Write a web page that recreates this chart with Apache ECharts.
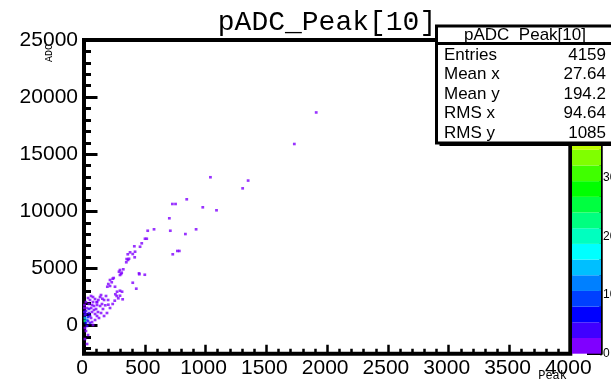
<!DOCTYPE html>
<html>
<head>
<meta charset="utf-8">
<script src="https://cdn.jsdelivr.net/npm/echarts@6/dist/echarts.min.js"></script>
<style>
html,body{margin:0;padding:0;background:#fff}
#chart{width:611px;height:379px}
</style>
</head>
<body>
<div id="chart"></div>
<script>
// bins of the 2D histogram: [Peak, ADC, entries]
var points = [
	[1910, 18660, 1], [1730, 15900, 1], [1040, 12990, 1], [1350, 12700, 1], [1305, 12020, 1],
	[845, 11060, 1], [727, 10650, 1], [753, 10650, 1], [977, 10360, 1], [1090, 10100, 1],
	[702, 9400, 1], [576, 8435, 1], [524, 8310, 1], [710, 8310, 1], [922, 8435, 1],
	[834, 8020, 1], [502, 7610, 1], [516, 7610, 1], [475, 7210, 1], [461, 6910, 1],
	[420, 6475, 1], [401, 6270, 1], [370, 5860, 1], [362, 5750, 1], [348, 5550, 1],
	[768, 6540, 1], [784, 6540, 1], [730, 6250, 1], [417, 5985, 1], [323, 4935, 1],
	[296, 4875, 1], [288, 4725, 1], [305, 4525, 1], [296, 4435, 1], [453, 4585, 1],
	[455, 4500, 1], [500, 4460, 1], [401, 3760, 1], [430, 3240, 1], [228, 3800, 1],
	[214, 4000, 1], [236, 4110, 1], [244, 4175, 1], [200, 3650, 1], [214, 3475, 1],
	[192, 3410, 1], [255, 3410, 1], [272, 2975, 1], [296, 3060, 1], [258, 2750, 1],
	[269, 2600, 1], [296, 2625, 1], [318, 2310, 1], [253, 2190, 1], [236, 1900, 1],
	[200, 1840, 1], [175, 1785, 1], [140, 2685, 1], [151, 2360, 1], [118, 2250, 1],
	[105, 2050, 1], [414, 6950, 1], [379, 6420, 1], [360, 6250, 1], [351, 5835, 1],
	[310, 4640, 1], [313, 2975, 1], [282, 2400, 1],
	[8, 410, 22], [8, 674, 16], [25, 500, 12], [16, 236, 8], [33, 761, 6],
	[8, 936, 5], [49, 849, 4], [41, 1111, 3], [16, 1286, 4], [66, 1199, 2],
	[25, 1549, 2], [58, 1549, 1], [82, 1724, 1], [41, 1899, 1], [74, 2074, 1],
	[99, 1461, 1], [115, 1199, 1], [91, 1024, 1], [132, 1724, 1], [148, 1899, 1],
	[107, 1811, 1], [49, 2249, 1], [165, 2249, 1], [156, 1461, 1], [25, -26, 4],
	[8, -201, 2], [16, -464, 1], [33, -814, 1], [8, -1164, 1], [25, -1601, 1],
	[66, 324, 2], [91, 499, 1], [123, 674, 1], [165, 849, 1], [189, 1111, 1],
	[214, 1549, 1], [198, 2249, 1], [181, 2599, 1], [132, 2511, 1], [74, 2511, 1],
	[4, 1811, 1], [16, 2074, 1], [33, 2424, 1], [58, 2599, 1], [91, 2336, 1],
	[107, 2074, 1], [66, 1811, 2], [41, 1461, 3], [82, 1374, 2], [16, 1024, 3],
	[58, 674, 2], [107, 849, 1], [140, 1111, 1], [33, 411, 5], [49, 236, 3],
	[74, 61, 1], [4, 1199, 4], [4, 1549, 2]
]

var yMajor = [0, 5000, 10000, 15000, 20000, 25000]
var yMinor = [-2000, -1000, 1000, 2000, 3000, 4000, 6000, 7000, 8000, 9000, 11000, 12000, 13000, 14000,
	16000, 17000, 18000, 19000, 21000, 22000, 23000, 24000]
var zTicks = [0, 10, 20, 30, 40, 50]
var zMax = 53.45

// ROOT rainbow palette, 20 contour levels
var palette = ['#8000ff', '#4000ff', '#0000ff', '#0040ff', '#0080ff', '#00bfff', '#00ffff', '#00ffbf',
	'#00ff80', '#00ff40', '#00ff00', '#40ff00', '#80ff00', '#bfff00', '#ffff00', '#ffbf00',
	'#ff8000', '#ff4000', '#ff0000', '#ff0040']

var stats = [
	['Entries', '4159'],
	['Mean x', '27.64'],
	['Mean y', '194.2'],
	['RMS x', '94.64'],
	['RMS y', '1085']
]

var step = zMax / palette.length
var pieces = [], bands = []
palette.forEach(function(c, i) {
	pieces.push({gte: i * step, lt: (i + 1) * step, color: c})
	bands.push([i * step, (i + 1) * step, i])
})

var sans = '"Liberation Sans", Arial, sans-serif'
var mono = '"Liberation Mono", "Courier New", monospace'
var plain = function(v) { return String(v) }

var statsBox = [
	{type: 'rect', z: 100, shape: {x: 439.5, y: 29, width: 180, height: 117}, style: {fill: '#000'}},
	{type: 'rect', z: 101, shape: {x: 436.5, y: 26, width: 180, height: 117}, style: {fill: '#fff', stroke: '#000', lineWidth: 3}},
	{type: 'line', z: 102, shape: {x1: 436.5, y1: 43.5, x2: 616, y2: 43.5}, style: {stroke: '#000', lineWidth: 3}},
	{type: 'text', z: 102, x: 525, y: 35, style: {text: 'pADC_Peak[10]', font: '17px ' + sans, fill: '#000', textAlign: 'center', textVerticalAlign: 'middle'}}
]
stats.forEach(function(r, i) {
	var y = 55 + i * 19.6
	statsBox.push({type: 'text', z: 102, x: 444, y: y, style: {text: r[0], font: '17px ' + sans, fill: '#000', textAlign: 'left', textVerticalAlign: 'middle'}})
	statsBox.push({type: 'text', z: 102, x: 606, y: y, style: {text: r[1], font: '17px ' + sans, fill: '#000', textAlign: 'right', textVerticalAlign: 'middle'}})
})

var chart = echarts.init(document.getElementById('chart'))
chart.setOption({
	animation: false,
	backgroundColor: '#fff',
	grid: [
		{left: 84, right: 40.7, top: 40, bottom: 25.3, outerBoundsMode: 'none', containLabel: false,
			show: true, borderColor: '#000', borderWidth: 4, backgroundColor: 'transparent'},
		{left: 572, right: 10, top: 40, bottom: 25.3, outerBoundsMode: 'none', containLabel: false}
	],
	xAxis: [{
		type: 'value', gridIndex: 0, min: 0, max: 4000, interval: 500,
		axisLine: {show: false, onZero: false},
		axisTick: {inside: true, length: 9, lineStyle: {color: '#000', width: 2.5}},
		minorTick: {show: true, splitNumber: 5, length: 5, lineStyle: {color: '#000', width: 2.5}},
		splitLine: {show: false},
		axisLabel: {color: '#000', fontSize: 21, fontFamily: sans, margin: 4, padding: [0, 4, 0, 0], formatter: plain}
	}, {
		type: 'value', gridIndex: 1, min: 0, max: 1, show: false
	}],
	yAxis: [{
		type: 'value', gridIndex: 0, position: 'left', min: -2450, max: 25000,
		axisLine: {show: false, onZero: false},
		axisTick: {inside: true, length: 13.5, customValues: yMajor, lineStyle: {color: '#000', width: 3}},
		axisLabel: {color: '#000', fontSize: 21, fontFamily: sans, margin: 6, customValues: yMajor, formatter: plain},
		splitLine: {show: false}
	}, {
		type: 'value', gridIndex: 0, position: 'left', offset: 0, min: -2450, max: 25000,
		axisLine: {show: false, onZero: false},
		axisTick: {inside: true, length: 7, customValues: yMinor, lineStyle: {color: '#000', width: 3}},
		axisLabel: {show: false},
		splitLine: {show: false}
	}, {
		type: 'value', gridIndex: 1, position: 'right', min: 0, max: zMax,
		axisLine: {show: true, onZero: false, lineStyle: {color: '#000', width: 3.5}},
		axisTick: {inside: true, length: 14, customValues: zTicks, lineStyle: {color: '#000', width: 3}},
		axisLabel: {color: '#000', fontSize: 12, fontFamily: sans, margin: 2, customValues: zTicks, hideOverlap: false},
		splitLine: {show: false}
	}],
	visualMap: {
		type: 'piecewise', show: false, dimension: 2, seriesIndex: 0, pieces: pieces
	},
	series: [{
		type: 'scatter', xAxisIndex: 0, yAxisIndex: 0,
		symbol: 'rect', symbolSize: [2.8, 2.6],
		data: points
	}, {
		type: 'custom', xAxisIndex: 1, yAxisIndex: 2,
		data: bands,
		encode: {y: [0, 1]},
		renderItem: function(params, api) {
			var p0 = api.coord([0, api.value(0)])
			var p1 = api.coord([1, api.value(1)])
			return {
				type: 'rect',
				shape: {x: p0[0], y: p1[1], width: p1[0] - p0[0], height: p0[1] - p1[1]},
				style: {fill: palette[api.value(2)]}
			}
		}
	}],
	graphic: [
		{type: 'text', x: 327, y: 23, z: 50, style: {text: 'pADC_Peak[10]', font: '28px ' + mono, fill: '#000', textAlign: 'center', textVerticalAlign: 'middle'}},
		{type: 'text', x: 49, y: 53, rotation: Math.PI / 2, z: 50, style: {text: 'ADC', font: '10px ' + mono, fill: '#000', textAlign: 'center', textVerticalAlign: 'middle'}},
		{type: 'text', x: 567, y: 370, z: 50, style: {text: 'Peak', font: '12px ' + mono, fill: '#000', textAlign: 'right', textVerticalAlign: 'top'}}
	].concat(statsBox)
})
</script>
</body>
</html>
